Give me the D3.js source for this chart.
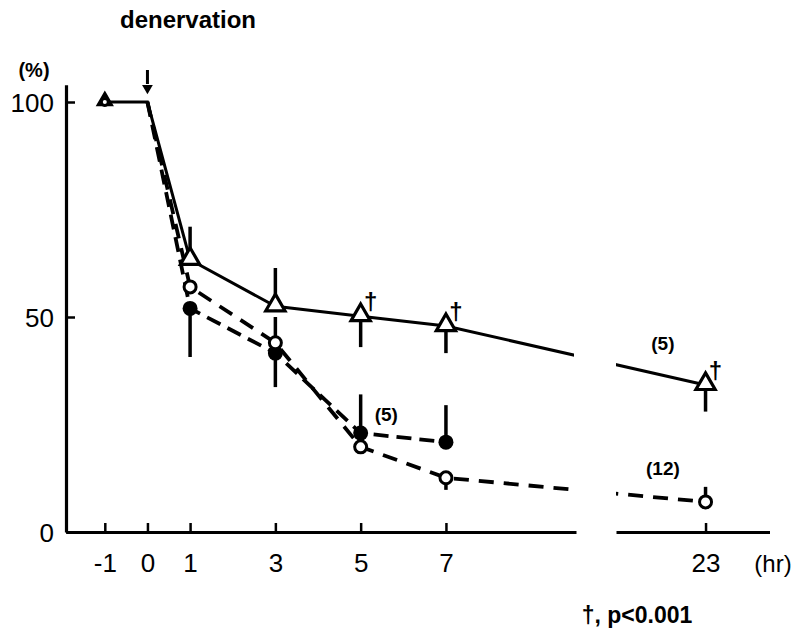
<!DOCTYPE html>
<head>
    <script src="https://d3js.org/d3.v7.min.js"></script>
    <style>
        body { margin: 0; background: white; }
        text { font-family: "Liberation Sans", Arial, sans-serif; fill: black; }
    </style>
</head>
<body>
<svg width="797" height="637" class="chart"></svg>
<script>
    // hours after denervation (23 sits on the far side of the axis break)
    const triHours = [-1, 0, 1, 3, 5, 7, 23];
    const triVals = [100, 100, 63.3, 52.5, 50.2, 47.9, 34.2];
    const triErr = [null, null, [63.3, 71], [52.5, 61.4], [43, 50.2], [41.6, 47.9], [28, 34.2]];
    const triSig = [5, 7, 23];

    const filledHours = [0, 1, 3, 5, 7];
    const filledVals = [100, 52, 41.6, 23, 20.9];
    const filledErr = [null, [40.7, 52], [33.7, 50], [23, 32], [20.9, 29.5]];

    const openHours = [-1, 0, 1, 3, 5, 7, 23];
    const openVals = [100, 100, 57, 44, 19.8, 12.6, 7];
    const openErr = [null, null, null, null, null, [9.8, 12.6], [7, 10.5]];

    const xTicksLeft = [-1, 0, 1, 3, 5, 7];
    const xTicksRight = [23];
    const yTicks = [0, 50, 100];

    const nLabels = [
        {h: 5.6, v: 27, t: "(5)"},
        {h: 22.0, v: 43.5, t: "(5)"},
        {h: 22.0, v: 14.5, t: "(12)"}
    ];

    const svg = d3.select(".chart");

    const xa = d3.scaleLinear().domain([-1.91, 10.05]).range([66, 576]);
    const xb = d3.scaleLinear().domain([20.9, 24.5]).range([616, 769.5]);
    const y = d3.scaleLinear().domain([0, 104]).range([532, 84.8]);
    function xPos(h) { return h > 12 ? xb(h) : xa(h); }

    const line = d3.line().x(d => xPos(d[0])).y(d => y(d[1]));

    // lines
    const triPts = triHours.map((h, i) => [h, triVals[i]]);
    svg.append("path").attr("d", line(triPts))
        .attr("fill", "none").attr("stroke", "black").attr("stroke-width", 3);

    const filledPts = filledHours.map((h, i) => [h, filledVals[i]]);
    svg.append("path").attr("d", line(filledPts))
        .attr("fill", "none").attr("stroke", "black").attr("stroke-width", 3.8)
        .attr("stroke-dasharray", "15,8");

    const openPts = openHours.map((h, i) => [h, openVals[i]]).filter(d => d[0] >= 0);
    svg.append("path").attr("d", line(openPts))
        .attr("fill", "none").attr("stroke", "black").attr("stroke-width", 3.8)
        .attr("stroke-dasharray", "15,10");

    // axis break gap
    svg.append("rect").attr("x", 574).attr("y", 90).attr("width", 42).attr("height", 430).attr("fill", "white");

    // error bars
    function errBars(hours, errs) {
        hours.forEach((h, i) => {
            if (!errs[i]) return;
            svg.append("line")
                .attr("x1", xPos(h)).attr("x2", xPos(h))
                .attr("y1", y(errs[i][0])).attr("y2", y(errs[i][1]))
                .attr("stroke", "black").attr("stroke-width", 3.5);
        });
    }
    errBars(triHours, triErr);
    errBars(filledHours, filledErr);
    errBars(openHours, openErr);

    // markers
    const tri = d3.symbol().type(d3.symbolTriangle).size(160);
    triHours.forEach((h, i) => {
        if (h === 0) return;
        svg.append("path").attr("d", h === -1 ? d3.symbol().type(d3.symbolTriangle).size(70)() : tri())
            .attr("transform", "translate(" + xPos(h) + "," + (y(triVals[i]) - 1) + ")")
            .attr("fill", "white").attr("stroke", "black").attr("stroke-width", 3.2);
    });
    filledHours.forEach((h, i) => {
        if (h === 0) return;
        svg.append("circle").attr("cx", xPos(h)).attr("cy", y(filledVals[i])).attr("r", 7.5)
            .attr("fill", "black");
    });
    openHours.forEach((h, i) => {
        if (h === 0) return;
        svg.append("circle").attr("cx", xPos(h)).attr("cy", y(openVals[i])).attr("r", h === -1 ? 3.5 : 6)
            .attr("fill", "white").attr("stroke", "black").attr("stroke-width", 3);
    });

    // significance daggers
    triSig.forEach(h => {
        const i = triHours.indexOf(h);
        svg.append("text")
            .attr("x", xPos(h) + 10).attr("y", y(triVals[i]) - 6)
            .attr("text-anchor", "middle")
            .style("font-size", "24px").style("font-weight", "bold")
            .text("\u2020");
    });

    // n labels
    nLabels.forEach(d => {
        svg.append("text")
            .attr("x", xPos(d.h)).attr("y", y(d.v))
            .attr("text-anchor", "middle").attr("dominant-baseline", "middle")
            .style("font-size", "19px").style("font-weight", "bold")
            .text(d.t);
    });

    // axes
    const axisX1 = svg.append("g").attr("transform", "translate(0,532)")
        .call(d3.axisBottom(xa).tickValues(xTicksLeft).tickSizeInner(-9).tickSizeOuter(0).tickPadding(22)
            .tickFormat(d3.format("d")));
    const axisX2 = svg.append("g").attr("transform", "translate(0,532)")
        .call(d3.axisBottom(xb).tickValues(xTicksRight).tickSizeInner(-9).tickSizeOuter(0).tickPadding(22)
            .tickFormat(d3.format("d")));
    const axisY = svg.append("g").attr("transform", "translate(66,0)")
        .call(d3.axisLeft(y).tickValues(yTicks).tickSizeInner(-9).tickSizeOuter(0).tickPadding(12));

    [axisX1, axisX2, axisY].forEach(g => {
        g.select(".domain").attr("stroke-width", 3.2);
        g.selectAll(".tick line").attr("stroke-width", 2.5);
        g.selectAll(".tick text").style("font-size", "26px")
            .style("font-family", "'Liberation Sans', Arial, sans-serif");
    });
    axisX1.selectAll(".tick text").text(d => d < 0 ? "-1" : d);
    axisY.selectAll(".tick text").attr("dy", "0.35em");

    svg.append("text").attr("x", 773).attr("y", 572).attr("text-anchor", "middle")
        .style("font-size", "24px").text("(hr)");
    svg.append("text").attr("x", 34).attr("y", 77).attr("text-anchor", "middle")
        .style("font-size", "20px").style("font-weight", "bold").text("(%)");

    // denervation marker
    svg.append("text").attr("x", 188).attr("y", 28).attr("text-anchor", "middle")
        .style("font-size", "24px").style("font-weight", "bold").text("denervation");
    svg.append("line").attr("x1", xa(0)).attr("x2", xa(0)).attr("y1", 70).attr("y2", 84)
        .attr("stroke", "black").attr("stroke-width", 3);
    svg.append("path")
        .attr("d", d3.symbol().type(d3.symbolTriangle).size(50)())
        .attr("transform", "translate(" + xa(0) + ",88) rotate(180)")
        .attr("fill", "black");

    svg.append("text").attr("x", 637).attr("y", 623).attr("text-anchor", "middle")
        .style("font-size", "23px").style("font-weight", "bold").text("\u2020, p<0.001");
</script>
</body>
